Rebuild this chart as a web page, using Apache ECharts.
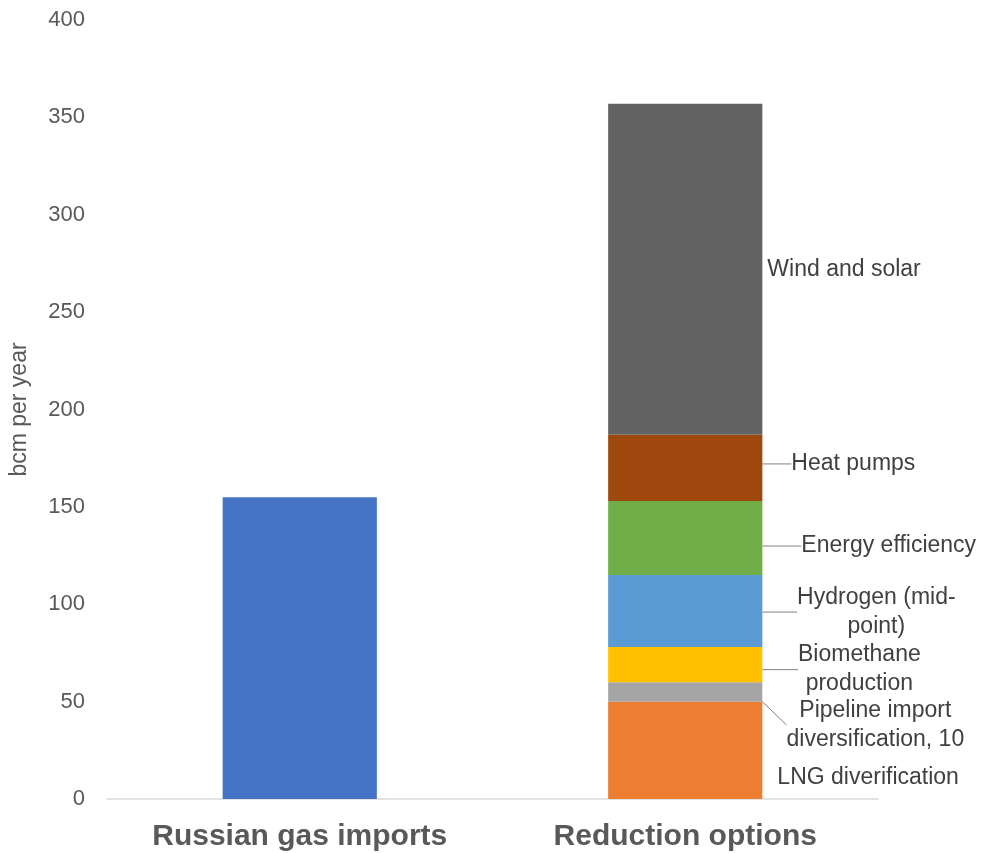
<!DOCTYPE html>
<html>
<head>
<meta charset="utf-8">
<script src="https://cdn.jsdelivr.net/npm/echarts@6/dist/echarts.min.js"></script>
<style>
html,body{margin:0;padding:0;background:#fff;}
#chart{width:981px;height:853px;}
</style>
</head>
<body>
<div id="chart"></div>
<script>
// ---- data ----
const categories = ['Russian gas imports', 'Reduction options'];
const yTicks = [0, 50, 100, 150, 200, 250, 300, 350, 400];
const russianGasImports = [155, '-'];
const optionNames = ['LNG diverification', 'Pipeline import diversification, 10', 'Biomethane production', 'Hydrogen (mid-point)', 'Energy efficiency', 'Heat pumps', 'Wind and solar'];
const optionLabels = ['LNG diverification', 'Pipeline import\ndiversification, 10', 'Biomethane\nproduction', 'Hydrogen (mid-\npoint)', 'Energy efficiency', 'Heat pumps', 'Wind and solar'];
const optionValues = [50, 10, 18, 37, 38, 34, 170];

// ---- styling / layout (not data) ----
const optionColors = ['#ED7D31', '#A5A5A5', '#FFC000', '#5B9BD5', '#70AD47', '#9E480E', '#636363'];
const labelLayouts = [
  { dx: 10, dy: 27, align: 'left', line: false },
  { dx: 108, dy: 33, align: 'center', line: true },
  { dx: 92, dy: 5, align: 'center', line: true },
  { dx: 109, dy: 1, align: 'center', line: true },
  { dx: 34, dy: 8, align: 'left', line: true },
  { dx: 24, dy: -4, align: 'left', line: true },
  { dx: 0, dy: 0, align: 'left', line: false }
];
const FONT = 'Liberation Sans, Arial, sans-serif';

const series = [{
  name: categories[0],
  type: 'bar',
  stack: 'total',
  barWidth: '40%',
  data: russianGasImports,
  itemStyle: { color: '#4472C4' }
}];

optionNames.forEach((name, i) => {
  const lay = labelLayouts[i];
  series.push({
    name: name,
    type: 'bar',
    stack: 'total',
    barWidth: '40%',
    data: ['-', optionValues[i]],
    itemStyle: { color: optionColors[i] },
    label: {
      show: true,
      position: 'right',
      distance: 5,
      formatter: () => optionLabels[i],
      align: lay.align,
      color: '#404040',
      fontFamily: FONT,
      fontSize: 23,
      lineHeight: 29
    },
    labelLayout: { dx: lay.dx, dy: lay.dy },
    labelLine: {
      show: lay.line,
      smooth: 0.4,
      lineStyle: { color: '#808080', width: 1 }
    }
  });
});

const chart = echarts.init(document.getElementById('chart'));
chart.setOption({
  animation: false,
  backgroundColor: '#ffffff',
  grid: { left: 102, right: 103, top: 20, bottom: 54, containLabel: false },
  xAxis: {
    type: 'category',
    data: categories,
    axisLine: { lineStyle: { color: '#D9D9D9', width: 1.5 } },
    axisTick: { show: false },
    axisLabel: {
      color: '#595959',
      fontFamily: FONT,
      fontWeight: 'bold',
      fontSize: 30,
      margin: 23
    }
  },
  yAxis: {
    type: 'value',
    min: yTicks[0],
    max: yTicks[yTicks.length - 1],
    interval: yTicks[1] - yTicks[0],
    name: 'bcm per year',
    nameLocation: 'middle',
    nameGap: 76,
    nameRotate: 90,
    nameTextStyle: { color: '#595959', fontFamily: FONT, fontSize: 23 },
    axisLine: { show: false },
    axisTick: { show: false },
    splitLine: { show: false },
    axisLabel: {
      color: '#595959',
      fontFamily: FONT,
      fontSize: 22,
      margin: 22
    }
  },
  series: series
});
</script>
</body>
</html>
